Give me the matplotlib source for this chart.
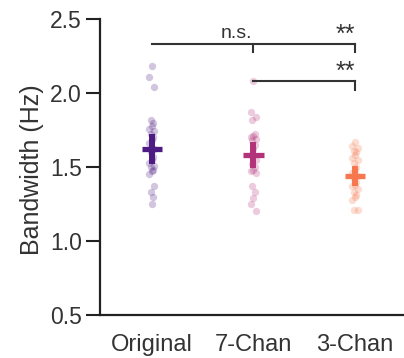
import matplotlib
matplotlib.use('Agg')
import matplotlib.pyplot as plt

plt.rcParams['font.family'] = ['Liberation Sans', 'DejaVu Sans']

# ---- data ----
conditions = ['Original', '7-Chan', '3-Chan']

bw_original = [2.18, 2.11, 2.04, 1.82, 1.80, 1.78, 1.76, 1.74, 1.72, 1.70,
               1.68, 1.66, 1.62, 1.60, 1.57, 1.55, 1.53, 1.51, 1.50, 1.48,
               1.47, 1.45, 1.37, 1.33, 1.30, 1.25]
bw_7chan = [2.08, 1.87, 1.84, 1.82, 1.72, 1.71, 1.70, 1.69, 1.68, 1.65,
            1.62, 1.58, 1.55, 1.52, 1.50, 1.48, 1.47, 1.46, 1.37, 1.33,
            1.29, 1.25, 1.20]
bw_3chan = [1.67, 1.64, 1.63, 1.61, 1.60, 1.58, 1.56, 1.55, 1.53, 1.50,
            1.48, 1.46, 1.44, 1.42, 1.40, 1.38, 1.37, 1.35, 1.33, 1.31,
            1.30, 1.28, 1.21, 1.21]

means = [1.62, 1.58, 1.44]
ci = [0.10, 0.09, 0.065]

colors = ['#4e1a83', '#b3337a', '#f7784f']

# ---- figure ----
fig = plt.figure(figsize=(4.04, 3.58), dpi=100)
ax = fig.add_axes([0.2475, 0.12, 0.7525, 0.827])

groups = [bw_original, bw_7chan, bw_3chan]
jit = [0.0, -0.025, 0.025, -0.01, 0.015]
for i, vals in enumerate(groups):
    xs = [i + jit[k % len(jit)] for k in range(len(vals))]
    ax.scatter(xs, vals, s=28, color=colors[i], alpha=0.25, linewidths=0, zorder=2)
    ax.vlines(i, means[i] - ci[i], means[i] + ci[i], color=colors[i], lw=4.3, zorder=3)
    ax.hlines(means[i], i - 0.1, i + 0.1, color=colors[i], lw=3.8, zorder=3)

# significance brackets
bc = '#333333'
ax.plot([0, 2], [2.332, 2.332], color=bc, lw=1.5)
ax.plot([1, 1], [2.332, 2.278], color=bc, lw=1.5)
ax.plot([2, 2], [2.332, 2.278], color=bc, lw=1.5)
ax.text(0.99, 2.345, 'n.s.', ha='right', va='bottom', fontsize=14, color=bc)
ax.text(2.0, 2.31, '**', ha='right', va='bottom', fontsize=18, color=bc)

ax.plot([1, 2], [2.083, 2.083], color=bc, lw=1.5)
ax.plot([2, 2], [2.083, 2.022], color=bc, lw=1.5)
ax.text(2.0, 2.06, '**', ha='right', va='bottom', fontsize=18, color=bc)

ax.set_xlim(-0.512, 2.483)
ax.set_ylim(0.5, 2.5)
ax.set_yticks([0.5, 1.0, 1.5, 2.0, 2.5])
ax.set_xticks([0, 1, 2])
ax.set_xticklabels(conditions)
ax.set_ylabel('Bandwidth (Hz)', fontsize=18, color='#333333')
ax.yaxis.set_label_coords(-0.185, 0.49)

ax.tick_params(axis='y', length=10, width=1.5, labelsize=16.5, colors='#222222',
               labelcolor='#333333', pad=3)
ax.tick_params(axis='x', length=0, labelsize=17, labelcolor='#333333', pad=14)
for s in ['top', 'right']:
    ax.spines[s].set_visible(False)
for s in ['left', 'bottom']:
    ax.spines[s].set_linewidth(1.6)
    ax.spines[s].set_color('#222222')

plt.savefig('out.png', dpi=100)
